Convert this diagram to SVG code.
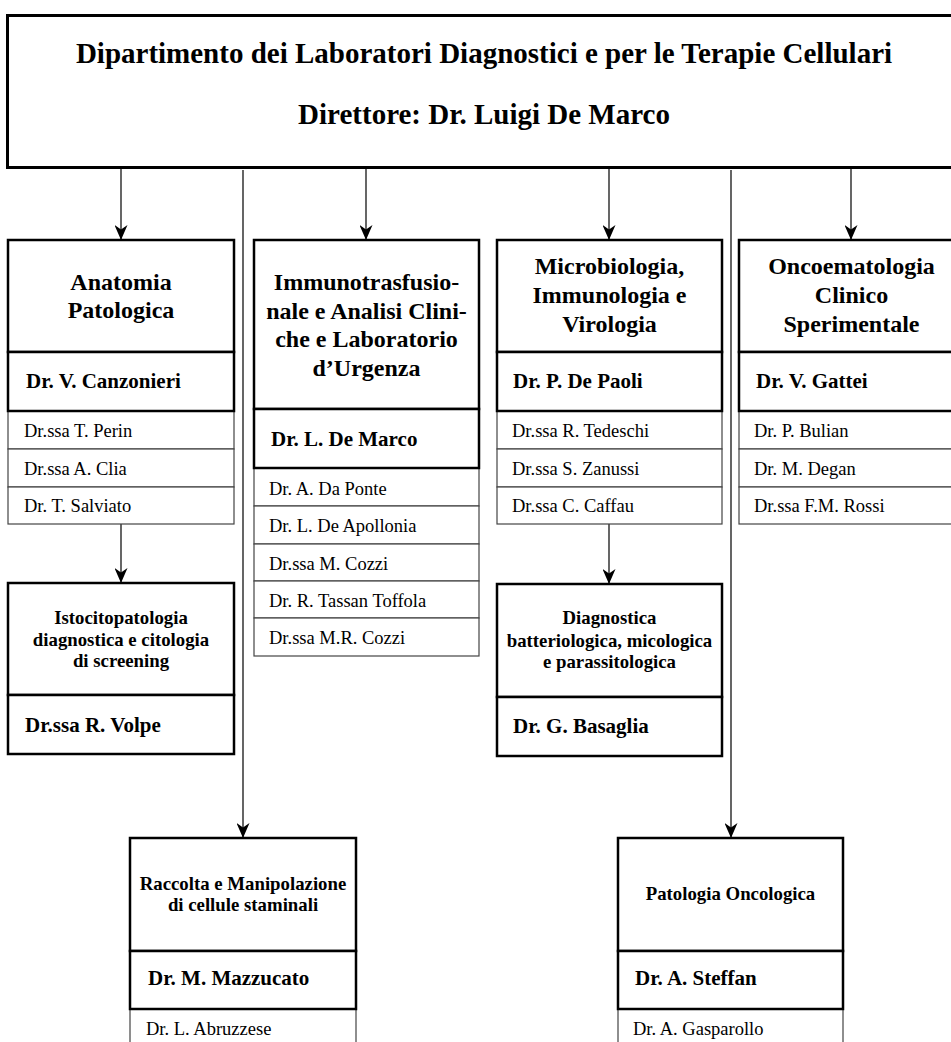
<svg xmlns="http://www.w3.org/2000/svg" width="951" height="1042" viewBox="0 0 951 1042">
  <defs>
    <marker id="arrow" markerUnits="userSpaceOnUse" markerWidth="15" markerHeight="13" refX="15" refY="6.5" orient="auto">
      <path d="M0,0 L15,6.5 L0,13 L4.5,6.5 z" fill="#000"/>
    </marker>
    <style>
      text { font-family: "Liberation Serif", "Times New Roman", serif; fill: #000; }
      .title { font-size: 29px; font-weight: bold; text-anchor: middle; }
      .head { font-size: 24px; font-weight: bold; text-anchor: middle; }
      .sub { font-size: 18.8px; font-weight: bold; text-anchor: middle; }
      .dir { font-size: 21px; font-weight: bold; }
      .mem { font-size: 18.5px; }
      .box { fill: #fff; stroke: #000; stroke-width: 2.5; }
      .row { fill: #fff; stroke: #444; stroke-width: 1.2; }
      .link { stroke: #000; stroke-width: 1.2; fill: none; marker-end: url(#arrow); }
      .trunk { stroke: #555; stroke-width: 1.8; fill: none; marker-end: url(#arrow); }
    </style>
  </defs>
  <rect width="951" height="1042" fill="#fff"/>

  <!-- connectors -->
  <g id="connectors">
    <line class="link" x1="121" y1="168" x2="121" y2="240"/>
    <line class="link" x1="366" y1="168" x2="366" y2="240"/>
    <line class="link" x1="609" y1="168" x2="609" y2="240"/>
    <line class="link" x1="851" y1="168" x2="851" y2="240"/>
    <line class="trunk" x1="243" y1="170" x2="243" y2="838"/>
    <line class="trunk" x1="731" y1="170" x2="731" y2="838"/>
    <line class="link" x1="121" y1="524" x2="121" y2="583"/>
    <line class="link" x1="609" y1="524" x2="609" y2="584"/>
  </g>

  <!-- department -->
  <g id="dipartimento">
    <rect x="7.5" y="15.5" width="965" height="152" fill="#fff" stroke="#000" stroke-width="3"/>
    <text class="title" x="484" y="63">Dipartimento dei Laboratori Diagnostici e per le Terapie Cellulari</text>
    <text class="title" x="484" y="124">Direttore: Dr. Luigi De Marco</text>
  </g>

  <!-- Anatomia Patologica -->
  <g id="anatomia">
    <rect class="row" x="8" y="411" width="226" height="38"/>
    <rect class="row" x="8" y="449" width="226" height="38"/>
    <rect class="row" x="8" y="487" width="226" height="37"/>
    <rect class="box" x="8" y="240" width="226" height="112"/>
    <rect class="box" x="8" y="352" width="226" height="59"/>
    <text class="head" x="121" y="290">Anatomia</text>
    <text class="head" x="121" y="318">Patologica</text>
    <text class="dir" x="26" y="388">Dr. V. Canzonieri</text>
    <text class="mem" x="24" y="437">Dr.ssa T. Perin</text>
    <text class="mem" x="24" y="474.5">Dr.ssa A. Clia</text>
    <text class="mem" x="24" y="512">Dr. T. Salviato</text>
  </g>

  <!-- Immunotrasfusionale -->
  <g id="immunotrasfusionale">
    <rect class="row" x="254" y="468" width="225" height="38"/>
    <rect class="row" x="254" y="506" width="225" height="38"/>
    <rect class="row" x="254" y="544" width="225" height="37"/>
    <rect class="row" x="254" y="581" width="225" height="37"/>
    <rect class="row" x="254" y="618" width="225" height="38"/>
    <rect class="box" x="254" y="240" width="225" height="169"/>
    <rect class="box" x="254" y="409" width="225" height="59"/>
    <text class="head" x="366.5" y="290">Immunotrasfusio-</text>
    <text class="head" x="366.5" y="318.5">nale e Analisi Clini-</text>
    <text class="head" x="366.5" y="347">che e Laboratorio</text>
    <text class="head" x="366.5" y="375.5">d’Urgenza</text>
    <text class="dir" x="271" y="446">Dr. L. De Marco</text>
    <text class="mem" x="269" y="495">Dr. A. Da Ponte</text>
    <text class="mem" x="269" y="532">Dr. L. De Apollonia</text>
    <text class="mem" x="269" y="570">Dr.ssa M. Cozzi</text>
    <text class="mem" x="269" y="607">Dr. R. Tassan Toffola</text>
    <text class="mem" x="269" y="644">Dr.ssa M.R. Cozzi</text>
  </g>

  <!-- Microbiologia -->
  <g id="microbiologia">
    <rect class="row" x="497" y="411" width="225" height="38"/>
    <rect class="row" x="497" y="449" width="225" height="38"/>
    <rect class="row" x="497" y="487" width="225" height="37"/>
    <rect class="box" x="497" y="240" width="225" height="112"/>
    <rect class="box" x="497" y="352" width="225" height="59"/>
    <text class="head" x="609.5" y="274">Microbiologia,</text>
    <text class="head" x="609.5" y="303">Immunologia e</text>
    <text class="head" x="609.5" y="332">Virologia</text>
    <text class="dir" x="513" y="388">Dr. P. De Paoli</text>
    <text class="mem" x="512" y="437">Dr.ssa R. Tedeschi</text>
    <text class="mem" x="512" y="474.5">Dr.ssa S. Zanussi</text>
    <text class="mem" x="512" y="512">Dr.ssa C. Caffau</text>
  </g>

  <!-- Oncoematologia -->
  <g id="oncoematologia">
    <rect class="row" x="739" y="411" width="225" height="38"/>
    <rect class="row" x="739" y="449" width="225" height="38"/>
    <rect class="row" x="739" y="487" width="225" height="37"/>
    <rect class="box" x="739" y="240" width="225" height="112"/>
    <rect class="box" x="739" y="352" width="225" height="59"/>
    <text class="head" x="851.5" y="274">Oncoematologia</text>
    <text class="head" x="851.5" y="303">Clinico</text>
    <text class="head" x="851.5" y="332">Sperimentale</text>
    <text class="dir" x="756" y="388">Dr. V. Gattei</text>
    <text class="mem" x="754" y="437">Dr. P. Bulian</text>
    <text class="mem" x="754" y="474.5">Dr. M. Degan</text>
    <text class="mem" x="754" y="512">Dr.ssa F.M. Rossi</text>
  </g>

  <!-- Istocitopatologia -->
  <g id="istocitopatologia">
    <rect class="box" x="8" y="583" width="226" height="112"/>
    <rect class="box" x="8" y="695" width="226" height="59"/>
    <text class="sub" x="121" y="624">Istocitopatologia</text>
    <text class="sub" x="121" y="645.5">diagnostica e citologia</text>
    <text class="sub" x="121" y="667">di screening</text>
    <text class="dir" x="25" y="732">Dr.ssa R. Volpe</text>
  </g>

  <!-- Diagnostica batteriologica -->
  <g id="diagnostica">
    <rect class="box" x="497" y="584" width="225" height="113"/>
    <rect class="box" x="497" y="697" width="225" height="59"/>
    <text class="sub" x="609.5" y="624">Diagnostica</text>
    <text class="sub" x="609.5" y="646.5">batteriologica, micologica</text>
    <text class="sub" x="609.5" y="668">e parassitologica</text>
    <text class="dir" x="513" y="733">Dr. G. Basaglia</text>
  </g>

  <!-- Raccolta e Manipolazione -->
  <g id="staminali">
    <rect class="row" x="130" y="1009" width="226" height="45"/>
    <rect class="box" x="130" y="838" width="226" height="113"/>
    <rect class="box" x="130" y="951" width="226" height="58"/>
    <text class="sub" x="243" y="890">Raccolta e Manipolazione</text>
    <text class="sub" x="243" y="911">di cellule staminali</text>
    <text class="dir" x="148" y="985">Dr. M. Mazzucato</text>
    <text class="mem" x="146" y="1035">Dr. L. Abruzzese</text>
  </g>

  <!-- Patologia Oncologica -->
  <g id="patologia-oncologica">
    <rect class="row" x="618" y="1009" width="225" height="45"/>
    <rect class="box" x="618" y="838" width="225" height="113"/>
    <rect class="box" x="618" y="951" width="225" height="58"/>
    <text class="sub" x="730.5" y="900">Patologia Oncologica</text>
    <text class="dir" x="635" y="985">Dr. A. Steffan</text>
    <text class="mem" x="633" y="1035">Dr. A. Gasparollo</text>
  </g>
</svg>
